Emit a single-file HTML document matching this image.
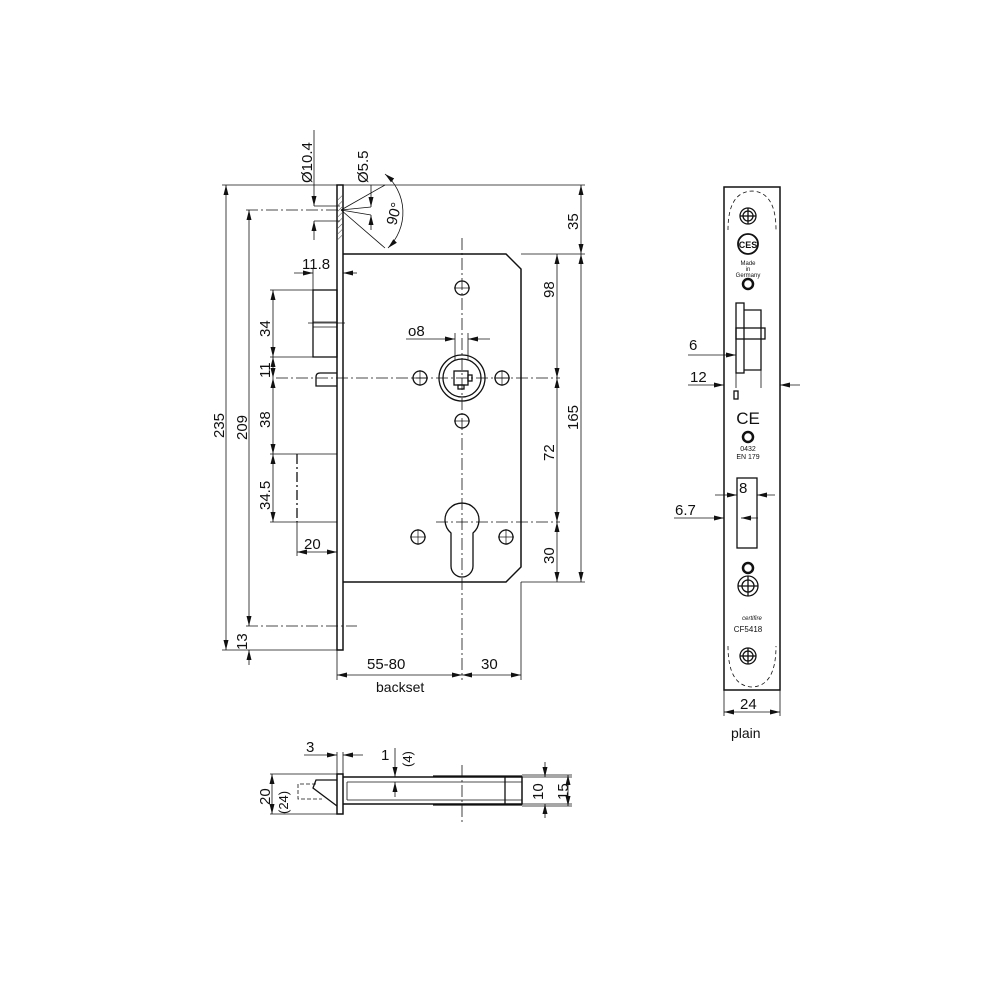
<!DOCTYPE html>
<html><head><meta charset="utf-8"><style>
html,body{margin:0;padding:0;background:#fff}
svg{display:block}
text{font-family:"Liberation Sans",sans-serif;fill:#111}
</style></head><body>
<svg width="1000" height="1000" viewBox="0 0 1000 1000" xmlns="http://www.w3.org/2000/svg">
<defs>
<marker id="a" viewBox="0 0 10 6" refX="10" refY="3" markerWidth="10" markerHeight="6" orient="auto-start-reverse" markerUnits="userSpaceOnUse"><path d="M0,0.5 L10,3 L0,5.5 z" fill="#111"/></marker>
<pattern id="h" width="4" height="4" patternUnits="userSpaceOnUse" patternTransform="rotate(45)"><line x1="0" y1="0" x2="0" y2="4" stroke="#111" stroke-width="0.8"/></pattern>
</defs>
<g stroke="#111" fill="none" stroke-width="0.8">
<rect x="337" y="185" width="6" height="465" stroke-width="1.5"/>
<rect x="338" y="195" width="4" height="45" fill="url(#h)" stroke="none"/>
<path d="M343,254 H506 L521,269 V567 L506,582 H343" stroke-width="1.5"/>
<line x1="462" y1="238" x2="462" y2="680" stroke-dasharray="12,3,2,3"/>
<line x1="276" y1="378" x2="560" y2="378" stroke-dasharray="12,3,2,3"/>
<line x1="436" y1="522" x2="560" y2="522" stroke-dasharray="12,3,2,3"/>
<line x1="246" y1="210" x2="345" y2="210" stroke-dasharray="12,3,2,3"/>
<line x1="246" y1="626" x2="357" y2="626" stroke-dasharray="12,3,2,3"/>
<g stroke-width="1.3">
<circle cx="462" cy="288" r="7"/><circle cx="462" cy="421" r="7"/>
<circle cx="420" cy="378" r="7"/><circle cx="502" cy="378" r="7"/>
<circle cx="418" cy="537" r="7"/><circle cx="506" cy="537" r="7"/>
<circle cx="462" cy="378" r="23"/><circle cx="462" cy="378" r="19"/>
<rect x="454" y="371" width="14" height="14"/><rect x="468" y="375" width="4" height="6"/><rect x="458" y="385" width="6" height="4"/>
<path d="M451,533 A17,17 0 1 1 473,533 V566 A11,11 0 0 1 451,566 Z"/>
</g>
<g stroke-width="0.7">
<line x1="412" y1="378" x2="428" y2="378"/><line x1="420" y1="370" x2="420" y2="386"/>
<line x1="494" y1="378" x2="510" y2="378"/><line x1="502" y1="370" x2="502" y2="386"/>
<line x1="410" y1="537" x2="426" y2="537"/><line x1="418" y1="529" x2="418" y2="545"/>
<line x1="498" y1="537" x2="514" y2="537"/><line x1="506" y1="529" x2="506" y2="545"/>
<line x1="454" y1="288" x2="470" y2="288"/><line x1="454" y1="421" x2="470" y2="421"/>
</g>
<rect x="313" y="290" width="24" height="67" stroke-width="1.3"/>
<line x1="313" y1="322" x2="337" y2="322"/><line x1="313" y1="327" x2="337" y2="327"/>
<line x1="308" y1="323" x2="345" y2="323"/>
<path d="M337,373 H320 Q316,373 316,377 V386 H337" stroke-width="1.3"/>
<path d="M297,454 H337 M297,522 H337" />
<line x1="297" y1="454" x2="297" y2="522" stroke-dasharray="10,3,2,3" stroke-width="1.3"/>
<line x1="222" y1="185" x2="337" y2="185"/><line x1="222" y1="650" x2="337" y2="650"/>
<line x1="226" y1="185" x2="226" y2="650" marker-start="url(#a)" marker-end="url(#a)"/>
<line x1="249" y1="210" x2="249" y2="626" marker-start="url(#a)" marker-end="url(#a)"/>
<line x1="249" y1="665" x2="249" y2="650" marker-end="url(#a)"/>
<line x1="270" y1="290" x2="313" y2="290"/><line x1="270" y1="357" x2="313" y2="357"/>
<line x1="270" y1="454" x2="297" y2="454"/><line x1="270" y1="522" x2="297" y2="522"/>
<line x1="273" y1="290" x2="273" y2="357" marker-start="url(#a)" marker-end="url(#a)"/>
<line x1="273" y1="357" x2="273" y2="378" marker-start="url(#a)" marker-end="url(#a)"/>
<line x1="273" y1="378" x2="273" y2="454" marker-start="url(#a)" marker-end="url(#a)"/>
<line x1="273" y1="454" x2="273" y2="522" marker-start="url(#a)" marker-end="url(#a)"/>
<line x1="297" y1="522" x2="297" y2="556"/>
<line x1="297" y1="552" x2="337" y2="552" marker-start="url(#a)" marker-end="url(#a)"/>
<line x1="313" y1="268" x2="313" y2="290"/>
<line x1="294" y1="273" x2="313" y2="273" marker-end="url(#a)"/>
<line x1="357" y1="273" x2="343" y2="273" marker-end="url(#a)"/>
<line x1="314" y1="206" x2="340" y2="206"/><line x1="314" y1="221" x2="340" y2="221"/>
<line x1="314" y1="130" x2="314" y2="206" marker-end="url(#a)"/>
<line x1="314" y1="240" x2="314" y2="221" marker-end="url(#a)"/>
<line x1="341" y1="210" x2="371" y2="207"/><line x1="341" y1="210" x2="371" y2="215"/>
<line x1="341" y1="210" x2="385" y2="185"/><line x1="341" y1="210" x2="385" y2="248"/>
<line x1="371" y1="185" x2="371" y2="207" marker-end="url(#a)"/>
<line x1="371" y1="230" x2="371" y2="215" marker-end="url(#a)"/>
<path d="M385,174 A50,50 0 0 1 388,248" marker-start="url(#a)" marker-end="url(#a)"/>
<line x1="455" y1="333" x2="455" y2="360"/><line x1="468" y1="333" x2="468" y2="360"/>
<line x1="406" y1="339" x2="455" y2="339" marker-end="url(#a)"/>
<line x1="490" y1="339" x2="468" y2="339" marker-end="url(#a)"/>
<line x1="343" y1="185" x2="585" y2="185"/><line x1="521" y1="254" x2="585" y2="254"/>
<line x1="521" y1="582" x2="585" y2="582"/>
<line x1="581" y1="185" x2="581" y2="254" marker-start="url(#a)" marker-end="url(#a)"/>
<line x1="581" y1="254" x2="581" y2="582" marker-start="url(#a)" marker-end="url(#a)"/>
<line x1="557" y1="254" x2="557" y2="378" marker-start="url(#a)" marker-end="url(#a)"/>
<line x1="557" y1="378" x2="557" y2="522" marker-start="url(#a)" marker-end="url(#a)"/>
<line x1="557" y1="522" x2="557" y2="582" marker-start="url(#a)" marker-end="url(#a)"/>
<line x1="337" y1="650" x2="337" y2="680"/><line x1="521" y1="582" x2="521" y2="680"/>
<line x1="337" y1="675" x2="462" y2="675" marker-start="url(#a)" marker-end="url(#a)"/>
<line x1="462" y1="675" x2="521" y2="675" marker-start="url(#a)" marker-end="url(#a)"/>
<rect x="724" y="187" width="56" height="503" stroke-width="1.5"/>
<path d="M728,230 Q728,192 752,191 Q776,192 776,230" stroke-dasharray="4,3"/>
<path d="M728,646 Q728,686 752,687 Q776,686 776,646" stroke-dasharray="4,3"/>
<g stroke-width="1.3">
<circle cx="748" cy="216" r="8"/><circle cx="748" cy="216" r="5"/>
<line x1="740" y1="216" x2="756" y2="216"/><line x1="748" y1="208" x2="748" y2="224"/>
<circle cx="748" cy="244" r="10" stroke-width="1.8"/>
<circle cx="748" cy="284" r="5" stroke-width="2.5"/>
<rect x="736" y="303" width="8" height="70"/>
<path d="M744,310 H761 V370 H744"/><rect x="736" y="328" width="29" height="11"/>
<rect x="734" y="391" width="4" height="8"/>
<circle cx="748" cy="437" r="5" stroke-width="2.5"/>
<rect x="737" y="478" width="20" height="70"/>
<circle cx="748" cy="568" r="5" stroke-width="2.5"/>
<circle cx="748" cy="586" r="10"/><circle cx="748" cy="586" r="6"/>
<line x1="738" y1="586" x2="758" y2="586"/><line x1="748" y1="576" x2="748" y2="596"/>
<circle cx="748" cy="656" r="8"/><circle cx="748" cy="656" r="5"/>
<line x1="740" y1="656" x2="756" y2="656"/><line x1="748" y1="648" x2="748" y2="664"/>
</g>
<line x1="688" y1="355" x2="736" y2="355" marker-end="url(#a)"/>
<line x1="736" y1="360" x2="736" y2="388"/><line x1="761" y1="360" x2="761" y2="388"/>
<line x1="688" y1="385" x2="724" y2="385" marker-end="url(#a)"/>
<line x1="800" y1="385" x2="780" y2="385" marker-end="url(#a)"/>
<line x1="715" y1="495" x2="737" y2="495" marker-end="url(#a)"/>
<line x1="775" y1="495" x2="757" y2="495" marker-end="url(#a)"/>
<line x1="674" y1="518" x2="724" y2="518" marker-end="url(#a)"/>
<line x1="758" y1="518" x2="741" y2="518" marker-end="url(#a)"/>
<line x1="724" y1="690" x2="724" y2="716"/><line x1="780" y1="690" x2="780" y2="716"/>
<line x1="724" y1="712" x2="780" y2="712" marker-start="url(#a)" marker-end="url(#a)"/>
<rect x="337" y="774" width="6" height="40" stroke-width="1.5"/>
<path d="M343,777 H522 V804 H343" stroke-width="1.5"/>
<line x1="347" y1="782" x2="522" y2="782"/><line x1="347" y1="800" x2="522" y2="800"/>
<line x1="347" y1="782" x2="347" y2="800"/>
<line x1="433" y1="776" x2="522" y2="776" stroke-width="1.3"/><line x1="433" y1="805" x2="522" y2="805" stroke-width="1.3"/>
<line x1="505" y1="777" x2="505" y2="804" stroke-width="1.3"/>
<path d="M337,780 H316 L313,788 L337,806" stroke-width="1.3"/>
<path d="M316,784 H298 V799 H322" stroke-dasharray="4,2"/>
<line x1="462" y1="765" x2="462" y2="825" stroke-dasharray="12,3,2,3"/>
<line x1="270" y1="774" x2="337" y2="774"/><line x1="270" y1="814" x2="337" y2="814"/>
<line x1="272" y1="774" x2="272" y2="814" marker-start="url(#a)" marker-end="url(#a)"/>
<line x1="337" y1="752" x2="337" y2="774"/><line x1="343" y1="752" x2="343" y2="774"/>
<line x1="304" y1="755" x2="337" y2="755" marker-end="url(#a)"/>
<line x1="363" y1="755" x2="343" y2="755" marker-end="url(#a)"/>
<line x1="395" y1="748" x2="395" y2="777" marker-end="url(#a)"/>
<line x1="395" y1="797" x2="395" y2="782" marker-end="url(#a)"/>
<line x1="522" y1="777" x2="572" y2="777"/><line x1="522" y1="804" x2="572" y2="804"/>
<line x1="545" y1="762" x2="545" y2="777" marker-end="url(#a)"/>
<line x1="545" y1="818" x2="545" y2="804" marker-end="url(#a)"/>
<line x1="522" y1="775" x2="572" y2="775"/><line x1="522" y1="806" x2="572" y2="806"/>
<line x1="568" y1="775" x2="568" y2="806" marker-start="url(#a)" marker-end="url(#a)"/>
</g>
<g font-size="15">
<text transform="translate(312,183) rotate(-90)">Ø10.4</text>
<text transform="translate(368,183) rotate(-90)">Ø5.5</text>
<text transform="translate(396,226) rotate(-75)">90°</text>
<text x="302" y="269">11.8</text>
<text x="408" y="336">o8</text>
<text transform="translate(270,337) rotate(-90)">34</text>
<text transform="translate(270,378) rotate(-90)">11</text>
<text transform="translate(270,428) rotate(-90)">38</text>
<text transform="translate(270,510) rotate(-90)">34.5</text>
<text x="304" y="549">20</text>
<text transform="translate(224,438) rotate(-90)">235</text>
<text transform="translate(247,440) rotate(-90)">209</text>
<text transform="translate(247,650) rotate(-90)">13</text>
<text transform="translate(578,230) rotate(-90)">35</text>
<text transform="translate(554,298) rotate(-90)">98</text>
<text transform="translate(578,430) rotate(-90)">165</text>
<text transform="translate(554,461) rotate(-90)">72</text>
<text transform="translate(554,564) rotate(-90)">30</text>
<text x="367" y="669">55-80</text>
<text x="481" y="669">30</text>
<text x="376" y="692" font-size="14">backset</text>
<text x="689" y="350">6</text>
<text x="690" y="382">12</text>
<text x="739" y="493">8</text>
<text x="675" y="515">6.7</text>
<text x="740" y="709">24</text>
<text x="731" y="738" font-size="14">plain</text>
<text x="306" y="752">3</text>
<text x="381" y="760">1</text>
<text transform="translate(412,767) rotate(-90)" font-size="13">(4)</text>
<text transform="translate(270,805) rotate(-90)">20</text>
<text transform="translate(288,814) rotate(-90)" font-size="13">(24)</text>
<text transform="translate(543,800) rotate(-90)">10</text>
<text transform="translate(568,800) rotate(-90)">15</text>
</g>
<g font-size="6" text-anchor="middle">
<text x="748" y="248" font-size="9" font-weight="bold">CES</text>
<text x="748" y="265">Made</text><text x="748" y="271">in</text><text x="748" y="277">Germany</text>
<text x="748" y="424" font-size="17">CE</text>
<text x="748" y="451" font-size="7">0432</text><text x="748" y="459" font-size="7">EN 179</text>
<text x="752" y="620" font-size="6" font-style="italic">certifire</text>
<text x="748" y="632" font-size="8">CF5418</text>
</g>
</svg>
</body></html>
